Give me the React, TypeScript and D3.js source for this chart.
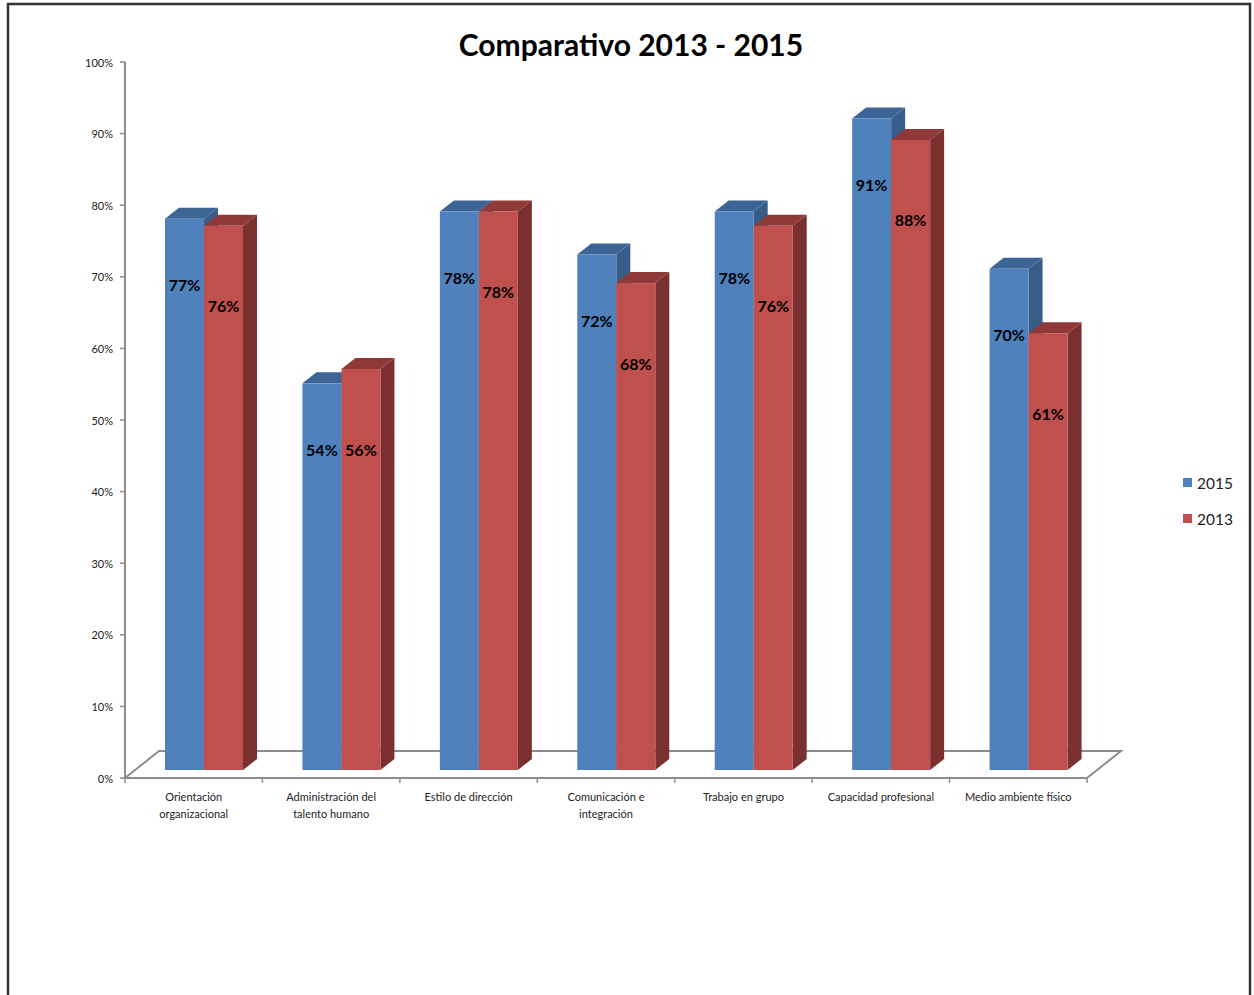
import React from "react";
import * as d3 from "d3";

const categories: string[][] = [
  ["Orientación", "organizacional"],
  ["Administración del", "talento humano"],
  ["Estilo de dirección"],
  ["Comunicación e", "integración"],
  ["Trabajo en grupo"],
  ["Capacidad profesional"],
  ["Medio ambiente físico"],
];
const values2015 = [0.77, 0.54, 0.78, 0.72, 0.78, 0.91, 0.70];
const values2013 = [0.76, 0.56, 0.78, 0.68, 0.76, 0.88, 0.61];
const seriesNames = ["2015", "2013"];
const yTicks = [0, 0.1, 0.2, 0.3, 0.4, 0.5, 0.6, 0.7, 0.8, 0.9, 1.0];
const title = "Comparativo 2013 - 2015";

const W = 1254;
const H = 995;
const FONT = "Lato, 'Noto Sans', sans-serif";

const colors = [
  { front: "#4F81BD", top: "#3C6596", side: "#385D8A" },
  { front: "#C0504D", top: "#8F3A38", side: "#7A302E" },
];

export default function App() {
  const axisX0 = 125;
  const axisX1 = 1087;
  const axisY0 = 778;
  const axisYTop = 62;
  const floorDx = 34;
  const floorDy = -27;
  const barBase = 770;
  const barDx = 14;
  const barDy = -11;
  const barW = 39;

  const yAxis = d3.scaleLinear().domain([0, 1]).range([axisY0, axisYTop]);
  const yBar = d3.scaleLinear().domain([0, 1]).range([barBase, barBase - 716]);
  const x = d3
    .scaleBand<number>()
    .domain(d3.range(categories.length))
    .range([axisX0, axisX1])
    .paddingInner(0)
    .paddingOuter(0);
  const series = [values2015, values2013];
  const labelOffsets = [66, 80];

  const bars: JSX.Element[] = [];
  const labels: JSX.Element[] = [];
  categories.forEach((_, i) => {
    const bandStart = x(i)!;
    series.forEach((vals, s) => {
      const x0 = bandStart + 40 + s * barW;
      const x1 = x0 + barW;
      const yt = yBar(vals[i]);
      const c = colors[s];
      bars.push(
        <g key={`b${i}-${s}`}>
          <polygon
            points={`${x1},${barBase} ${x1},${yt} ${x1 + barDx},${yt + barDy} ${x1 + barDx},${barBase + barDy}`}
            fill={c.side}
          />
          <polygon
            points={`${x0},${yt} ${x1},${yt} ${x1 + barDx},${yt + barDy} ${x0 + barDx},${yt + barDy}`}
            fill={c.top}
          />
          <rect x={x0} y={yt} width={barW} height={barBase - yt} fill={c.front} />
        </g>
      );
      labels.push(
        <text
          key={`l${i}-${s}`}
          x={(x0 + x1) / 2}
          y={yt + labelOffsets[s]}
          textAnchor="middle"
          dominantBaseline="central"
          fontFamily={FONT}
          fontWeight="bold"
          fontSize={16}
          fill="#000"
        >
          {`${Math.round(vals[i] * 100)}%`}
        </text>
      );
    });
  });

  const floorPts = `${axisX0},${axisY0} ${axisX1},${axisY0} ${axisX1 + floorDx},${axisY0 + floorDy} ${axisX0 + floorDx},${axisY0 + floorDy}`;

  return (
    <svg
      width={W}
      height={H}
      style={{ position: "absolute", left: 0, top: 0, background: "#fff" }}
    >
      <rect x={0} y={0} width={W} height={H} fill="#fff" />
      <rect x={8} y={4} width={1242} height={1010} fill="none" stroke="#333" strokeWidth={2.5} />

      <text
        x={631}
        y={56}
        textAnchor="middle"
        fontFamily={FONT}
        fontWeight="bold"
        fontSize={30}
        fill="#000"
      >
        {title}
      </text>

      {/* floor */}
      <polygon points={floorPts} fill="none" stroke="#8c8c8c" strokeWidth={2} />

      {/* y axis */}
      <line x1={axisX0} y1={axisYTop} x2={axisX0} y2={axisY0} stroke="#8c8c8c" strokeWidth={2} />
      {yTicks.map((t) => (
        <g key={`t${t}`}>
          <line x1={axisX0 - 5} x2={axisX0} y1={yAxis(t)} y2={yAxis(t)} stroke="#8c8c8c" strokeWidth={1.5} />
          <text
            x={axisX0 - 12}
            y={yAxis(t)}
            textAnchor="end"
            dominantBaseline="central"
            fontFamily={FONT}
            fontSize={11}
            fill="#222"
          >
            {`${Math.round(t * 100)}%`}
          </text>
        </g>
      ))}

      {/* category ticks */}
      {d3.range(categories.length + 1).map((i) => {
        const xx = axisX0 + i * x.bandwidth();
        return <line key={`ct${i}`} x1={xx} x2={xx} y1={axisY0} y2={axisY0 + 5} stroke="#8c8c8c" strokeWidth={1.5} />;
      })}

      {bars}
      {labels}

      {/* category labels */}
      {categories.map((lines, i) => (
        <text
          key={`c${i}`}
          x={x(i)! + x.bandwidth() / 2}
          y={801}
          textAnchor="middle"
          fontFamily={FONT}
          fontSize={11}
          fill="#222"
        >
          {lines.map((ln, k) => (
            <tspan key={k} x={x(i)! + x.bandwidth() / 2} dy={k === 0 ? 0 : 17}>
              {ln}
            </tspan>
          ))}
        </text>
      ))}

      {/* legend */}
      {seriesNames.map((n, s) => (
        <g key={`lg${s}`}>
          <rect x={1183} y={478 + s * 36} width={9} height={9} fill={colors[s].front} />
          <text
            x={1197}
            y={483 + s * 36}
            dominantBaseline="central"
            fontFamily={FONT}
            fontSize={15.5}
            fill="#222"
          >
            {n}
          </text>
        </g>
      ))}
    </svg>
  );
}
